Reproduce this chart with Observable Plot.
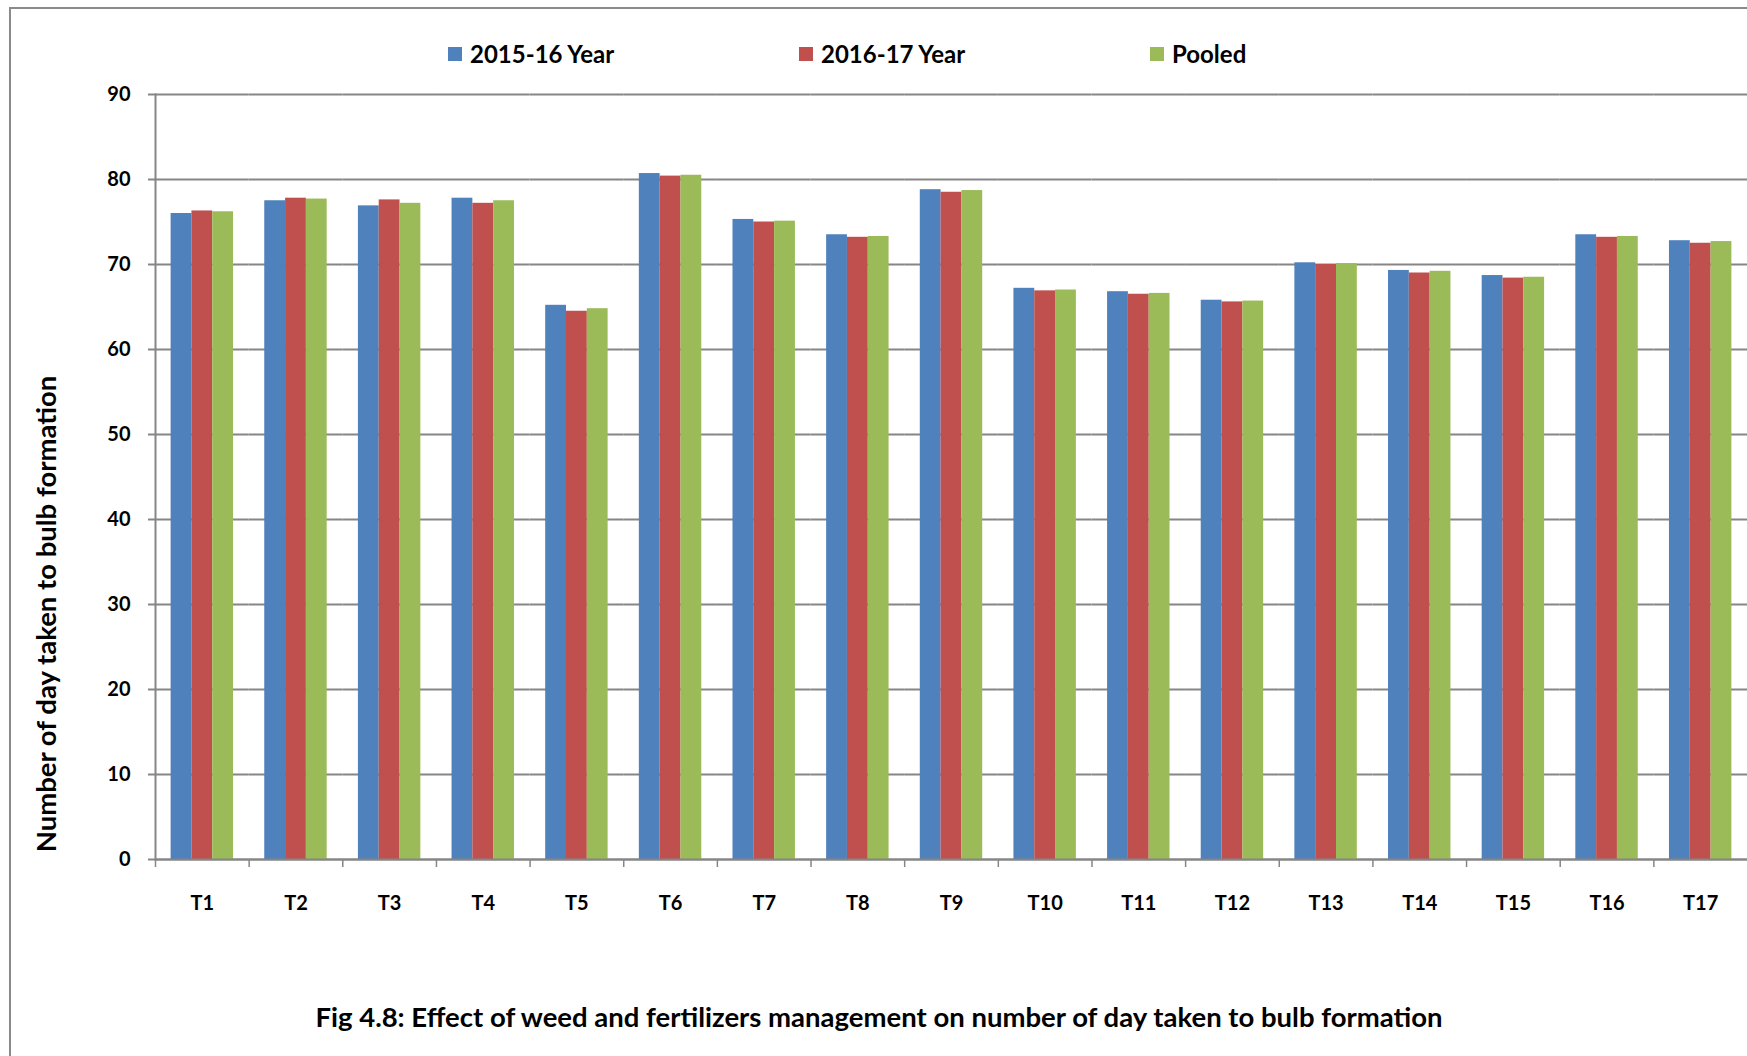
<!DOCTYPE html>
<html>
<head>
<meta charset="utf-8">
<script src="https://cdn.jsdelivr.net/npm/d3@7"></script>
<script src="https://cdn.jsdelivr.net/npm/@observablehq/plot@0.6"></script>
<style>
  html, body { margin: 0; padding: 0; background: #fff; overflow: hidden; width: 1747px; height: 1056px; }
  body { font-family: Lato, "Open Sans", sans-serif; font-weight: bold; color: #000; }
  #frame { position: absolute; left: 9px; top: 7px; width: 1800px; height: 1100px; border: 2px solid #8a8a8a; box-sizing: border-box; }
  #legend { position: absolute; top: 40px; left: 448px; display: flex; font-size: 24px; line-height: 28px; }
  .item { display: flex; align-items: center; width: 351px; }
  .sw { width: 14px; height: 14px; margin-right: 8px; }
  #chart { position: absolute; left: 0; top: 70px; }
  #caption { position: absolute; left: 0; top: 1002px; width: 1758px; text-align: center; font-size: 27.5px; line-height: 30px; }
</style>
</head>
<body>
<div id="frame"></div>
<div id="legend"></div>
<div id="chart"></div>
<div id="caption"></div>
<script>
const categories = ["T1","T2","T3","T4","T5","T6","T7","T8","T9","T10","T11","T12","T13","T14","T15","T16","T17"];
const series = ["2015-16 Year", "2016-17 Year", "Pooled"];
const values2015 = [76.0, 77.5, 76.9, 77.8, 65.2, 80.7, 75.3, 73.5, 78.8, 67.2, 66.8, 65.8, 70.2, 69.3, 68.7, 73.5, 72.8];
const values2016 = [76.3, 77.8, 77.6, 77.2, 64.5, 80.4, 75.0, 73.2, 78.5, 66.9, 66.5, 65.6, 70.0, 69.0, 68.4, 73.2, 72.5];
const valuesPooled = [76.2, 77.7, 77.2, 77.5, 64.8, 80.5, 75.1, 73.3, 78.7, 67.0, 66.6, 65.7, 70.1, 69.2, 68.5, 73.3, 72.7];
const colors = ["#4F81BD", "#C0504D", "#9BBB59"];
const yTicks = [0, 10, 20, 30, 40, 50, 60, 70, 80, 90];
const yTitle = "Number of day taken to bulb formation";
const captionText = "Fig 4.8: Effect of weed and fertilizers management on number of day taken to bulb formation";

const seriesValues = [values2015, values2016, valuesPooled];
const table = [];
categories.forEach((c, i) => series.forEach((s, j) => table.push({cat: c, series: s, value: seriesValues[j][i]})));

// legend
const legend = document.getElementById("legend");
series.forEach((s, j) => {
  const it = document.createElement("div");
  it.className = "item";
  it.innerHTML = `<span class="sw" style="background:${colors[j]}"></span><span>${s}</span>`;
  legend.appendChild(it);
});
document.getElementById("caption").textContent = captionText;

const W = 1747, H = 849, mL = 155, mR = 0, mT = 24, mB = 60;
const step = (W - mL - mR) / categories.length;
const grey = "#868686";

const chart = Plot.plot({
  width: W, height: H,
  marginLeft: mL, marginRight: mR, marginTop: mT, marginBottom: mB,
  style: {fontFamily: "Lato, 'Open Sans', sans-serif", fontWeight: "bold", color: "#000", background: "transparent", overflow: "visible"},
  fx: {domain: categories, paddingInner: 0, paddingOuter: 0, round: false, label: null},
  x: {domain: series, paddingInner: 0, paddingOuter: 0.75, round: false, axis: null},
  y: {domain: [0, 90], ticks: yTicks, label: null},
  color: {domain: series, range: colors},
  marks: [
    Plot.gridY(yTicks, {stroke: grey, strokeOpacity: 1, strokeWidth: 2}),
    Plot.barY(table, {fx: "cat", x: "series", y: "value", fill: "series"}),
    Plot.ruleY([0], {stroke: grey, strokeWidth: 2}),
    Plot.axisY(yTicks, {tickSize: 7, tickPadding: 18, fontSize: 20, stroke: grey, strokeWidth: 2, label: null}),
    Plot.frame({anchor: "left", facetAnchor: "left", stroke: grey, strokeWidth: 2}),
    Plot.axisFx({anchor: "bottom", tickSize: 0, tickPadding: 36, fontSize: 20, label: null}),
    Plot.axisFx({anchor: "bottom", tickSize: 8, tickFormat: () => "", dx: -step / 2, stroke: grey, strokeWidth: 1.5, label: null}),
    Plot.text([yTitle], {text: d => d, frameAnchor: "left", facetAnchor: "left", textAnchor: "middle", rotate: -90, dx: -108, dy: 137, fontSize: 27.5, fontWeight: "bold", fill: "#000"})
  ]
});
document.getElementById("chart").appendChild(chart);
</script>
</body>
</html>
